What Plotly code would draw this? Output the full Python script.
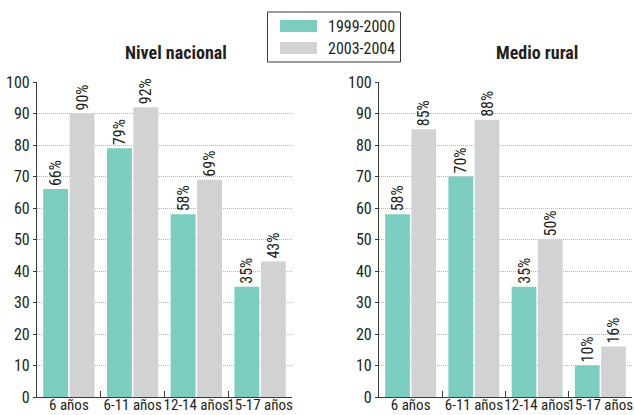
import plotly.graph_objects as go

# Age groups on the x axis
categories = ["6 años", "6-11 años", "12-14 años", "15-17 años"]
series_names = ["1999-2000", "2003-2004"]

# Percentages, national level
nacional_9900 = [66, 79, 58, 35]
nacional_0304 = [90, 92, 69, 43]

# Percentages, rural areas
rural_9900 = [58, 70, 35, 10]
rural_0304 = [85, 88, 50, 16]

panel_titles = ["Nivel nacional", "Medio rural"]
y_ticks = [0, 10, 20, 30, 40, 50, 60, 70, 80, 90, 100]

TEAL = "#7acdbf"
GREY = "#d1d2d4"
FONT = "Roboto Condensed, Liberation Sans Narrow, sans-serif"
W, H = 634, 415


def px_x(v):
    return v / W


def px_y(v):
    return (H - v) / H


fig = go.Figure()

panels = [
    ("x", "y", nacional_9900, nacional_0304),
    ("x2", "y2", rural_9900, rural_0304),
]
colors = [TEAL, GREY]
for xa, ya, s1, s2 in panels:
    for name, vals, col in zip(series_names, [s1, s2], colors):
        fig.add_trace(go.Bar(
            x=categories, y=vals, name=name, xaxis=xa, yaxis=ya,
            marker=dict(color=col, line=dict(width=0)),
            texttemplate="%{y}%", textposition="outside", textangle=-90,
            textfont=dict(family=FONT, size=16, color="#231f20"),
            cliponaxis=False, constraintext="none", showlegend=False,
        ))

y_dom = [px_y(397), px_y(82)]
common_x = dict(
    type="category", showline=True, linecolor="#3a3a3a", linewidth=1.2,
    ticks="inside", tickson="boundaries", ticklen=6, tickcolor="#3a3a3a",
    showgrid=False, tickangle=0, automargin=False, ticklabelstandoff=-6,
    tickfont=dict(family=FONT, size=15, color="#231f20"),
    fixedrange=True,
)
common_y = dict(
    range=[0, 100], tickvals=y_ticks, showline=True, linecolor="#3a3a3a",
    linewidth=1.2, ticks="outside", ticklen=3, tickcolor="#3a3a3a",
    showgrid=True, gridcolor="#b4b4b4", gridwidth=1, griddash="1px,1px",
    zeroline=False, automargin=False,
    tickfont=dict(family=FONT, size=16, color="#231f20"),
    domain=y_dom, fixedrange=True,
)

fig.update_layout(
    width=W, height=H,
    margin=dict(l=0, r=0, t=0, b=0),
    paper_bgcolor="white", plot_bgcolor="white",
    barmode="group", bargap=0.17, bargroupgap=0.06,
    xaxis=dict(common_x, domain=[px_x(37), px_x(292)], anchor="y"),
    yaxis=dict(common_y, anchor="x"),
    xaxis2=dict(common_x, domain=[px_x(379), px_x(632)], anchor="y2"),
    yaxis2=dict(common_y, anchor="x2"),
    font=dict(family=FONT, color="#231f20"),
)

# Panel titles
for title, cx in zip(panel_titles, [176, 537]):
    fig.add_annotation(
        text=f"<b>{title}</b>", x=px_x(cx), y=px_y(53), xref="paper", yref="paper",
        showarrow=False, xanchor="center", yanchor="middle",
        font=dict(family=FONT, size=18, color="#231f20"),
    )

# Legend box with wide colour swatches
fig.add_shape(type="rect", xref="paper", yref="paper",
              x0=px_x(267.5), x1=px_x(400.5), y0=px_y(62), y1=px_y(12),
              line=dict(color="#3a3a3a", width=1), fillcolor="white")
for i, (name, col) in enumerate(zip(series_names, colors)):
    cy = 26 + i * 22
    fig.add_shape(type="rect", xref="paper", yref="paper",
                  x0=px_x(280), x1=px_x(317), y0=px_y(cy + 6), y1=px_y(cy - 6),
                  line=dict(width=0), fillcolor=col)
    fig.add_annotation(
        text=name, x=px_x(326), y=px_y(cy), xref="paper", yref="paper",
        showarrow=False, xanchor="left", yanchor="middle",
        font=dict(family=FONT, size=16, color="#231f20"),
    )

fig.write_html("out.html")
